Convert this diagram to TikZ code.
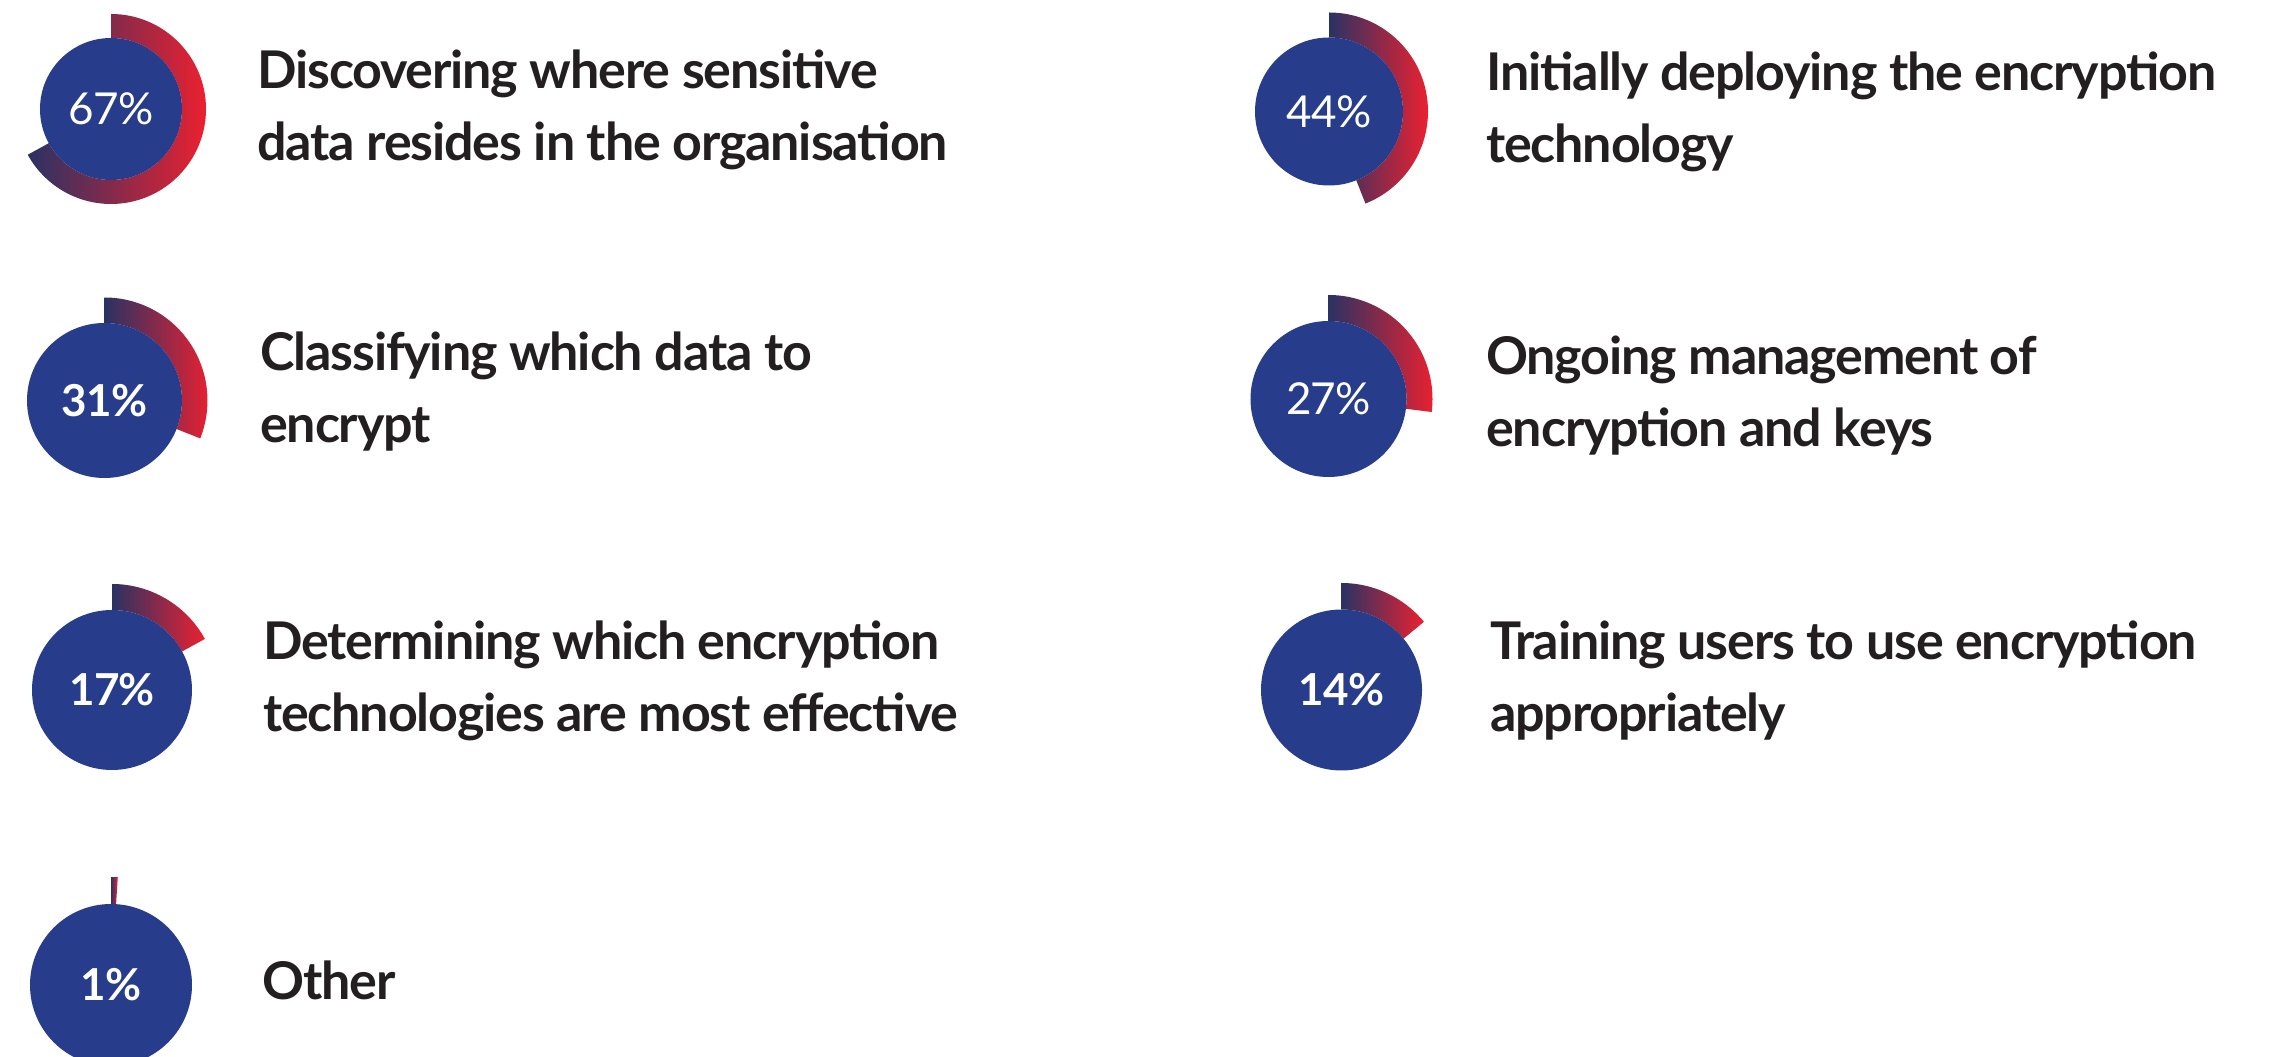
\documentclass[tikz,border=0pt]{standalone}
\usepackage{fontspec}
\setmainfont{Lato}
\newfontfamily\descfont{Lato}[LetterSpace=-2.2]
\newfontfamily\pctfont{Lato}[LetterSpace=-1.5]
\usetikzlibrary{calc}
\definecolor{navy}{RGB}{39,61,140}
\definecolor{ringdark}{RGB}{42,50,100}
\definecolor{ringmid}{RGB}{180,42,72}
\definecolor{ringred}{RGB}{234,33,48}
\definecolor{txt}{RGB}{35,31,32}
\tikzset{
  pctcircle/.style={circle,fill=navy,inner sep=0pt,text=white},
  pctbold/.style={font=\pctfont\fontsize{44}{44}\selectfont\bfseries},
  pctreg/.style={font=\pctfont\fontsize{44}{44}\selectfont},
  ringfill/.style={left color=ringdark,middle color=ringmid,right color=ringred},
  desc/.style={anchor=west,inner sep=0pt,align=left,text=txt,font=\descfont\fontsize{52}{72}\selectfont\bfseries}
}
% #1 name, #2 cx, #3 cy, #4 inner r, #5 outer R, #6 percent, #7 label style
\newcommand\donutchart[7]{%
  \shade[ringfill] ($(#2,#3)+(90:#5)$) arc[start angle=90,end angle={90-3.6*#6},radius=#5]
    -- ($(#2,#3)+({90-3.6*#6}:#4)$) arc[start angle={90-3.6*#6},end angle=90,radius=#4] -- cycle;
  \node[pctcircle,#7,minimum size={2*#4pt}] (#1) at (#2,#3) {#6\%};
}
\begin{document}
\begin{tikzpicture}[x=1pt,y=1pt]
\useasboundingbox (0,0) rectangle (2280,1057);
\clip (0,0) rectangle (2280,1057);
\fill[white] (0,0) rectangle (2280,1057);

\donutchart{d1}{111}{948}{71}{95}{67}{pctreg}
\donutchart{d2}{104.5}{656.5}{77.5}{103}{31}{pctbold}
\donutchart{d3}{112}{367}{80}{106}{17}{pctbold}
\donutchart{d4}{111}{72}{81}{108}{1}{pctbold}
\donutchart{d5}{1329}{945.5}{74}{99}{44}{pctreg}
\donutchart{d6}{1328.5}{658}{78}{104}{27}{pctreg}
\donutchart{d7}{1341.5}{367}{80.5}{107}{14}{pctbold}

\node[desc] (t1) at (257,947.6) {Discovering where sensitive\\data resides in the organisation};
\node[desc] (t2) at (260,665.5) {Classifying which data to\\encrypt};
\node[desc] (t3) at (263,376.4) {Determining which encryption\\technologies are most effective};
\node[desc] (t4) at (262,77) {Other};
\node[desc] (t5) at (1486,945.4) {Initially deploying the encryption\\technology};
\node[desc] (t6) at (1486,661.8) {Ongoing management of\\encryption and keys};
\node[desc] (t7) at (1490,376.4) {Training users to use encryption\\appropriately};
\end{tikzpicture}
\end{document}
